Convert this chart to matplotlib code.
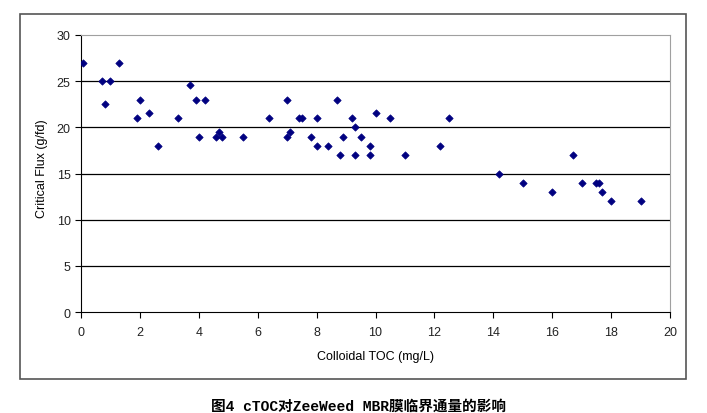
import matplotlib
matplotlib.use("Agg")
import matplotlib.pyplot as plt
from matplotlib.patches import Rectangle
from matplotlib import font_manager

colloidal_toc = [0.07, 0.7, 0.8, 1.0, 1.3, 1.9, 2.0, 2.3, 2.6, 3.3, 3.7, 3.9, 4.0, 4.2,
                 4.6, 4.7, 4.8, 5.5, 6.4, 7.0, 7.0, 7.1, 7.4, 7.5, 7.8, 8.0, 8.0, 8.4,
                 8.7, 8.8, 8.9, 9.2, 9.3, 9.3, 9.5, 9.8, 9.8, 10.0, 10.5, 11.0, 12.2,
                 12.5, 14.2, 15.0, 16.0, 16.7, 17.0, 17.5, 17.6, 17.7, 18.0, 19.0]
critical_flux = [27, 25, 22.5, 25, 27, 21, 23, 21.5, 18, 21, 24.6, 23, 19, 23,
                 19, 19.5, 19, 19, 21, 23, 19, 19.5, 21, 21, 19, 18, 21, 18,
                 23, 17, 19, 21, 20, 17, 19, 18, 17, 21.5, 21, 17, 18,
                 21, 15, 14, 13, 17, 14, 14, 14, 13, 12, 12]

x_ticks = list(range(0, 21, 2))
y_ticks = list(range(0, 31, 5))
x_label = "Colloidal TOC (mg/L)"
y_label = "Critical Flux (g/fd)"
caption = "图4 cTOC对ZeeWeed MBR膜临界通量的影响"

names = {f.name for f in font_manager.fontManager.ttflist}
narrow = 'Liberation Sans Narrow' in names
base_font = 'Liberation Sans Narrow' if narrow else 'Liberation Sans'
tick_size = 10.5 if narrow else 9
label_size = 10.5 if narrow else 9
plt.rcParams['font.family'] = [base_font, 'DejaVu Sans']

fig = plt.figure(figsize=(7.07, 4.14), dpi=100)
fig.patches.append(Rectangle((20 / 707, 1 - 380 / 414), 666 / 707, 365 / 414,
                             transform=fig.transFigure, fill=False,
                             edgecolor='#555555', linewidth=1.2))

ax = fig.add_axes([81 / 707, 1 - 313 / 414, 589 / 707, 277 / 414])
ax.set_xlim(0, 20)
ax.set_ylim(0, 30)
ax.set_xticks(x_ticks)
ax.set_yticks(y_ticks)
for yv in y_ticks[1:-1]:
    ax.axhline(yv, color='black', linewidth=0.9, zorder=1)
ax.scatter(colloidal_toc, critical_flux, marker='D', s=14, color='#000080',
           edgecolors='#000080', linewidths=0.5, zorder=3)

ax.spines['left'].set_color('black')
ax.spines['bottom'].set_color('black')
ax.spines['top'].set_color('#a0a0a0')
ax.spines['right'].set_color('#a0a0a0')
ax.tick_params(axis='both', direction='out', length=4, width=0.8, labelsize=tick_size,
               color='black', labelcolor='#222222')
ax.tick_params(axis='x', pad=6)
ax.set_xlabel(x_label, fontsize=label_size)
ax.set_ylabel(y_label, fontsize=label_size)
ax.xaxis.set_label_coords(0.5, -(357 - 313) / 277)
ax.yaxis.set_label_coords((42 - 81) / 589, (313 - 169) / 277)
ax.xaxis.label.set_va('center')
ax.yaxis.label.set_va('center')

fig.text(358 / 707, 1 - 407 / 414, caption, ha='center', va='center',
         fontsize=10.5, fontweight='bold',
         family=['Liberation Mono', 'Noto Sans CJK SC'])

fig.savefig("out.png", dpi=100)
